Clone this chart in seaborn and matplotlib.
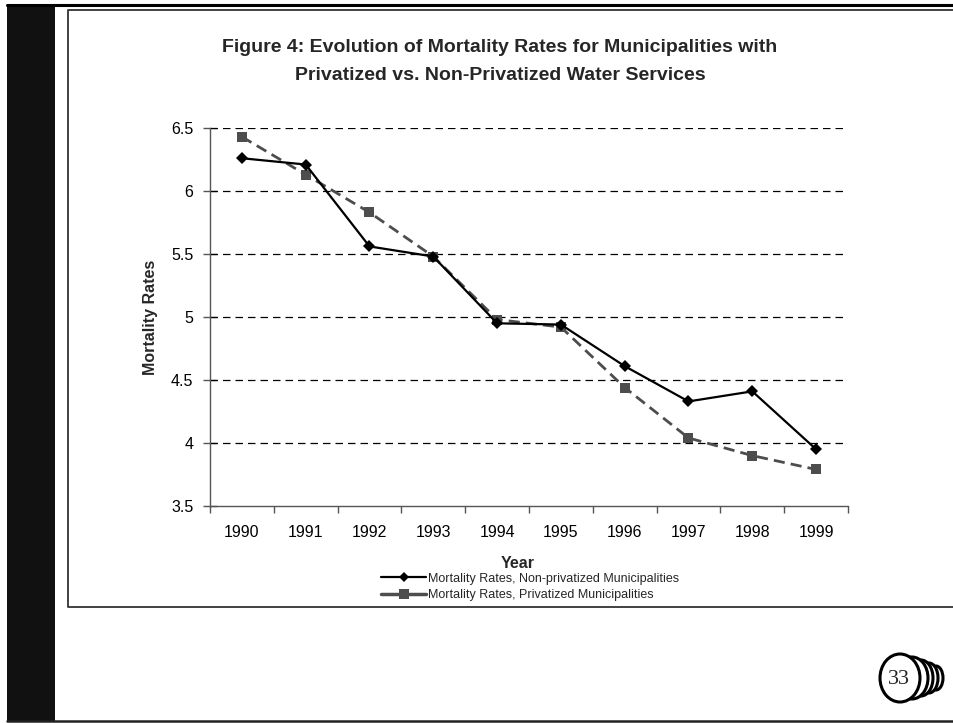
import pandas as pd
import matplotlib
matplotlib.use("Agg")
import matplotlib.pyplot as plt
import seaborn as sns
from matplotlib.patches import Rectangle, Ellipse
from matplotlib.lines import Line2D

# Data
years = ["1990", "1991", "1992", "1993", "1994", "1995", "1996", "1997", "1998", "1999"]
non_privatized = [6.26, 6.21, 5.56, 5.48, 4.95, 4.94, 4.61, 4.33, 4.41, 3.95]
privatized = [6.43, 6.13, 5.83, 5.48, 4.98, 4.92, 4.44, 4.04, 3.90, 3.79]
series_names = ["Mortality Rates, Non-privatized Municipalities",
                "Mortality Rates, Privatized Municipalities"]
y_ticks = [3.5, 4, 4.5, 5, 5.5, 6, 6.5]

df = pd.DataFrame({
    "Year": years * 2,
    "Rate": non_privatized + privatized,
    "Series": [series_names[0]] * len(years) + [series_names[1]] * len(years),
})

sns.set_theme(style="white")
plt.rcParams["font.family"] = ["Liberation Sans", "DejaVu Sans"]

W, H = 954, 723
fig = plt.figure(figsize=(W / 100, H / 100), dpi=100)


def fx(px):
    return px / W


def fy(py):
    return 1 - py / H


# slide decoration
fig.add_artist(Rectangle((fx(7), fy(722)), fx(55) - fx(7), fy(4) - fy(722),
                         transform=fig.transFigure, color="#111111", lw=0))
fig.add_artist(Line2D([fx(7), 1], [fy(5), fy(5)], transform=fig.transFigure,
                      color="black", lw=2.2))
fig.add_artist(Line2D([fx(7), 1], [fy(721), fy(721)], transform=fig.transFigure,
                      color="#222222", lw=1.8))
# chart box
fig.add_artist(Line2D([1.01, fx(68), fx(68), 1.01],
                      [fy(9.5), fy(9.5), fy(607), fy(607)],
                      transform=fig.transFigure, color="#333333", lw=1.3))

ax = fig.add_axes([fx(210), fy(506), fx(848) - fx(210), fy(128) - fy(506)])

sns.lineplot(data=df, x="Year", y="Rate", hue="Series", style="Series",
             palette={series_names[0]: "black", series_names[1]: "#4d4d4d"},
             markers={series_names[0]: "D", series_names[1]: "s"},
             dashes={series_names[0]: "", series_names[1]: (4, 2.2)},
             hue_order=series_names, style_order=series_names,
             markeredgewidth=0, legend=False, ax=ax)
lines = ax.get_lines()
lines[0].set_linewidth(1.6)
lines[0].set_markersize(6.5)
lines[0].set_zorder(4)
lines[1].set_linewidth(2.0)
lines[1].set_markersize(7.5)
lines[1].set_zorder(3)

ax.set_xlim(-0.5, len(years) - 0.5)
ax.set_ylim(3.5, 6.5)
ax.set_yticks(y_ticks)
ax.set_yticklabels(["3.5", "4", "4.5", "5", "5.5", "6", "6.5"])
ax.set_xticks([i - 0.5 for i in range(len(years) + 1)])
ax.set_xticklabels([])
ax.set_xticks(range(len(years)), minor=True)
ax.set_xticklabels(years, minor=True)
ax.tick_params(axis="x", which="major", direction="out", length=5, width=1,
               color="#555555", bottom=True)
ax.tick_params(axis="x", which="minor", length=0, labelsize=11.5, pad=14,
               labelcolor="black")
ax.tick_params(axis="y", direction="inout", length=10, width=1, color="#555555",
               labelsize=11.5, pad=7, left=True, labelcolor="black")

for v in y_ticks[1:]:
    ax.axhline(v, color="black", lw=0.9, ls=(0, (6, 4)), zorder=1)

sns.despine(ax=ax)
for side in ["left", "bottom"]:
    ax.spines[side].set_color("#555555")
    ax.spines[side].set_linewidth(1.0)

ax.set_xlabel("")
ax.set_ylabel("")
fig.text(fx(151), fy(317), "Mortality Rates", rotation=90, ha="center",
         va="center", fontsize=11.5, fontweight="bold")
fig.text(fx(518), fy(563), "Year", ha="center", va="center", fontsize=11.5,
         fontweight="bold")

fig.text(fx(500), fy(48), "Figure 4: Evolution of Mortality Rates for Municipalities with",
         ha="center", va="center", fontsize=14, fontweight="bold")
fig.text(fx(500), fy(75), "Privatized vs. Non-Privatized Water Services",
         ha="center", va="center", fontsize=14, fontweight="bold")

# legend below the plot
handles = [
    Line2D([], [], color="black", lw=1.6, marker="D", markersize=5.5,
           markeredgewidth=0),
    Line2D([], [], color="#4d4d4d", lw=2.5, marker="s", markersize=6.5,
           markeredgewidth=0),
]
fig.legend(handles, series_names, loc="center left",
           bbox_to_anchor=(fx(381), fy(587)), frameon=False, fontsize=9,
           handlelength=3.6, handletextpad=0.2, labelspacing=0.38,
           borderpad=0, borderaxespad=0)

# page number badge
cx, cy = 900, 678
for dx, w, h in [(36, 14, 24), (29, 18, 30), (21, 24, 36), (12, 32, 42)]:
    fig.add_artist(Ellipse((fx(cx + dx), fy(cy)), fx(w), fy(0) - fy(h),
                           transform=fig.transFigure, facecolor="white",
                           edgecolor="black", lw=2.2))
fig.add_artist(Ellipse((fx(cx), fy(cy)), fx(40), fy(0) - fy(48),
                       transform=fig.transFigure, facecolor="white",
                       edgecolor="black", lw=2.2))
fig.text(fx(cx - 1), fy(cy + 1), "33", ha="center", va="center", fontsize=16,
         family="Liberation Serif")

fig.savefig("out.png", dpi=100)
